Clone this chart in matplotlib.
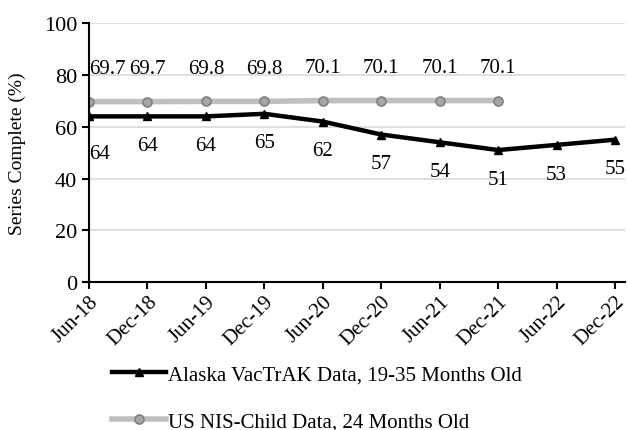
import numpy as np
import matplotlib.pyplot as plt

plt.rcParams['font.family'] = ['Liberation Serif', 'DejaVu Serif']

# ------------------ DATA ------------------
months = ["Jun-18", "Dec-18", "Jun-19", "Dec-19", "Jun-20",
          "Dec-20", "Jun-21", "Dec-21", "Jun-22", "Dec-22"]
alaska = [64, 64, 64, 65, 62, 57, 54, 51, 53, 55]
us_nis = [69.7, 69.7, 69.8, 69.8, 70.1, 70.1, 70.1, 70.1]
yticks = [0, 20, 40, 60, 80, 100]

# ------------------ PLOT ------------------
fig = plt.figure(figsize=(6.28, 4.31), dpi=100)
ax = fig.add_axes([0.1417, 0.343, 0.8535, 0.601])

x = np.arange(len(months))
x_us = np.arange(len(us_nis))

ax.plot(x, alaska, color="black", lw=3.2, marker="^", ms=6,
        label="Alaska VacTrAK Data, 19-35 Months Old", zorder=3)
ax.plot(x_us, us_nis, color="#bfbfbf", lw=4, marker="o", ms=6.5,
        mfc="#a6a6a6", mec="#808080", mew=1.2,
        label="US NIS-Child Data, 24 Months Old", zorder=2)

fs = 15
for i, (xi, v) in enumerate(zip(x, alaska)):
    ha = "left" if i == 0 else "center"
    dy = -27 if i == 0 else -21
    ax.annotate(f"{v:g}", (xi, v), xytext=(0, dy), textcoords="offset points",
                ha=ha, va="center", fontsize=fs, annotation_clip=False)
for i, (xi, v) in enumerate(zip(x_us, us_nis)):
    ha = "left" if i == 0 else "center"
    ax.annotate(f"{v:g}", (xi, v), xytext=(0, 24), textcoords="offset points",
                ha=ha, va="center", fontsize=fs)

ax.set_ylim(0, 100)
ax.set_xlim(0, 9.17)
ax.set_yticks(yticks)
ax.set_xticks(x)
ax.set_xticklabels(months, rotation=45, ha="right", va="top",
                   rotation_mode="anchor")
ax.tick_params(axis="both", labelsize=fs, direction="out", length=5, width=1.5)
ax.tick_params(axis="x", pad=2)
ax.tick_params(axis="y", labelsize=16)
ax.set_ylabel("Series Complete (%)", fontsize=14)
ax.yaxis.set_label_coords(-0.118, 0.5)

ax.grid(axis="y", color="#d9d9d9", lw=1.2)
ax.set_axisbelow(True)
for s in ["top", "right"]:
    ax.spines[s].set_visible(False)
ax.spines["left"].set_linewidth(1.5)
ax.spines["bottom"].set_linewidth(1.5)

fig.legend(loc="upper left", bbox_to_anchor=(0.165, 0.17), frameon=False,
           fontsize=fs, handlelength=2.6, handletextpad=0.1, labelspacing=1.3,
           borderaxespad=0)

fig.savefig("out.png", dpi=100)
